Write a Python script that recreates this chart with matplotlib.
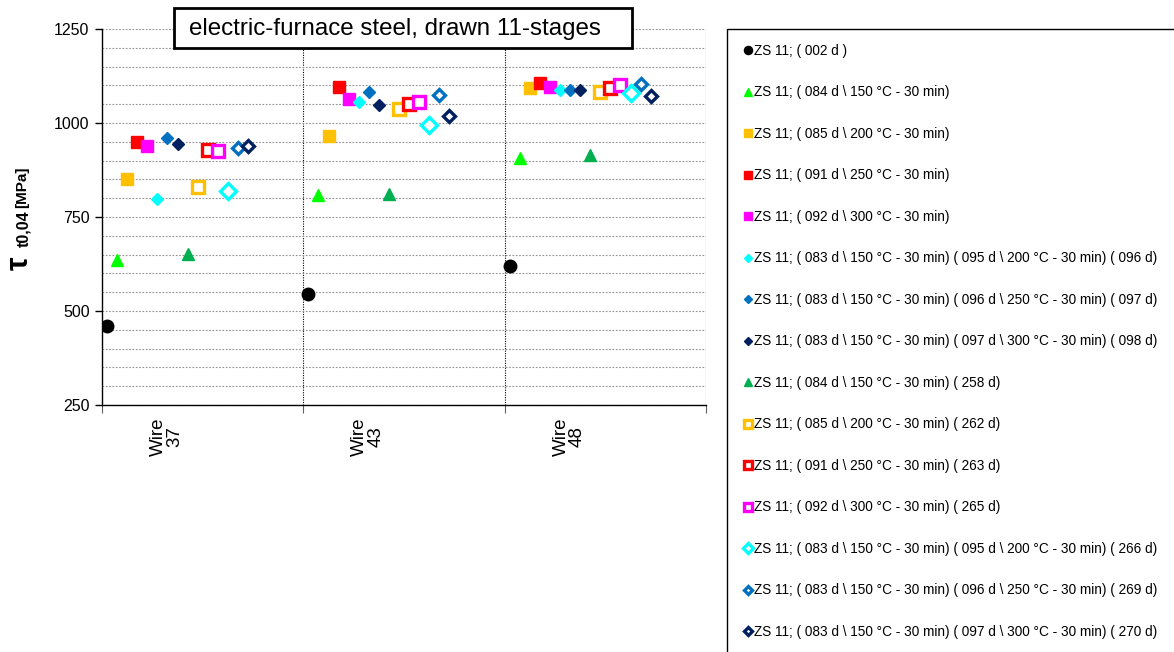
import matplotlib
matplotlib.use('Agg')
import matplotlib.pyplot as plt
from matplotlib.patches import Rectangle
from matplotlib.ticker import MultipleLocator, FixedLocator, NullFormatter

plt.rcParams['font.family'] = ['Liberation Sans', 'DejaVu Sans']

W, H = 1174, 652

wires = ['Wire\n37', 'Wire\n43', 'Wire\n48']

labels = [
    'ZS 11; ( 002 d )',
    'ZS 11; ( 084 d \\ 150 °C - 30 min)',
    'ZS 11; ( 085 d \\ 200 °C - 30 min)',
    'ZS 11; ( 091 d \\ 250 °C - 30 min)',
    'ZS 11; ( 092 d \\ 300 °C - 30 min)',
    'ZS 11; ( 083 d \\ 150 °C - 30 min) ( 095 d \\ 200 °C - 30 min) ( 096 d)',
    'ZS 11; ( 083 d \\ 150 °C - 30 min) ( 096 d \\ 250 °C - 30 min) ( 097 d)',
    'ZS 11; ( 083 d \\ 150 °C - 30 min) ( 097 d \\ 300 °C - 30 min) ( 098 d)',
    'ZS 11; ( 084 d \\ 150 °C - 30 min) ( 258 d)',
    'ZS 11; ( 085 d \\ 200 °C - 30 min) ( 262 d)',
    'ZS 11; ( 091 d \\ 250 °C - 30 min) ( 263 d)',
    'ZS 11; ( 092 d \\ 300 °C - 30 min) ( 265 d)',
    'ZS 11; ( 083 d \\ 150 °C - 30 min) ( 095 d \\ 200 °C - 30 min) ( 266 d)',
    'ZS 11; ( 083 d \\ 150 °C - 30 min) ( 096 d \\ 250 °C - 30 min) ( 269 d)',
    'ZS 11; ( 083 d \\ 150 °C - 30 min) ( 097 d \\ 300 °C - 30 min) ( 270 d)',
]

# tau values [MPa] per series, for wire 37 / 43 / 48
s002 = [459, 546, 619]
s084 = [636, 809, 908]
s085 = [850, 966, 1093]
s091 = [950, 1097, 1107]
s092 = [940, 1064, 1095]
s096 = [798, 1056, 1089]
s097 = [960, 1082, 1087]
s098 = [943, 1048, 1087]
s258 = [652, 810, 916]
s262 = [829, 1038, 1082]
s263 = [927, 1050, 1093]
s265 = [925, 1056, 1101]
s266 = [820, 996, 1079]
s269 = [934, 1074, 1104]
s270 = [938, 1018, 1073]

series = [s002, s084, s085, s091, s092, s096, s097, s098,
          s258, s262, s263, s265, s266, s269, s270]

# marker style per series: (marker, colour, filled, size, edge width)
styles = [
    ('o', '#000000', True, 9, 1),
    ('^', '#00FF00', True, 8.5, 1),
    ('s', '#FFC000', True, 8.5, 1),
    ('s', '#FF0000', True, 8.5, 1),
    ('s', '#FF00FF', True, 8.5, 1),
    ('D', '#00FFFF', True, 6.5, 1),
    ('D', '#0070C0', True, 6.5, 1),
    ('D', '#002060', True, 6.5, 1),
    ('^', '#00B050', True, 8.5, 1),
    ('s', '#FFC000', False, 8, 2.4),
    ('s', '#FF0000', False, 8, 2.4),
    ('s', '#FF00FF', False, 8, 2.4),
    ('D', '#00FFFF', False, 8, 2.4),
    ('D', '#0070C0', False, 6, 2.4),
    ('D', '#002060', False, 6, 2.4),
]

fig = plt.figure(figsize=(W / 100, H / 100), dpi=100)
ax = fig.add_axes([0.0869, 0.3788, 0.5145, 0.5767])

for i, (vals, st, lab) in enumerate(zip(series, styles, labels)):
    m, c, filled, ms, mew = st
    xs = [g + 0.025 + 0.05 * i for g in range(len(wires))]
    ax.plot(xs, vals, linestyle='none', marker=m, markersize=ms,
            markerfacecolor=c if filled else 'white', markeredgecolor=c,
            markeredgewidth=mew, label=lab, zorder=3)

ax.set_xlim(0, 3)
ax.set_ylim(250, 1250)
ax.yaxis.set_major_locator(MultipleLocator(250))
ax.yaxis.set_minor_locator(MultipleLocator(50))
ax.grid(True, which='both', axis='y', color='#909090', linestyle=(0, (1.5, 1.5)), linewidth=0.8)
ax.tick_params(axis='y', which='minor', length=0)
ax.tick_params(axis='y', which='major', length=5, width=1, labelsize=11.5, pad=4)

ax.xaxis.set_major_locator(FixedLocator([0, 1, 2, 3]))
ax.xaxis.set_major_formatter(NullFormatter())
ax.xaxis.set_minor_locator(FixedLocator([0.32, 1.32, 2.32]))
ax.set_xticklabels(wires, minor=True, rotation=90, fontsize=13.5, va='top', ha='center', linespacing=0.95)
ax.tick_params(axis='x', which='minor', length=0, pad=9)
ax.tick_params(axis='x', which='major', length=6, width=0.8, direction='out', color='#606060')
for xv in [1, 2, 3]:
    ax.axvline(xv, color='black', linestyle=(0, (1, 1.2)), linewidth=0.8, zorder=1)

ax.spines['top'].set_visible(False)
ax.spines['right'].set_visible(False)
ax.spines['left'].set_linewidth(1)
ax.spines['bottom'].set_linewidth(1)

# y label: big tau, subscript, unit
fig.text(20 / W, 1 - 263 / H, 'τ', fontsize=22, fontweight='bold', rotation=90,
         ha='center', va='center')
fig.text(24 / W, 1 - 229 / H, 't0,04', fontsize=11.5, fontweight='bold', rotation=90,
         ha='center', va='center')
fig.text(22 / W, 1 - 187 / H, '[MPa]', fontsize=11, fontweight='bold', rotation=90,
         ha='center', va='center')

# title box
fig.patches.append(Rectangle((174 / W, 1 - 47.5 / H), 458 / W, 39.5 / H,
                             transform=fig.transFigure, facecolor='white',
                             edgecolor='black', linewidth=2, zorder=5))
fig.text(189 / W, 1 - 29 / H, 'electric-furnace steel, drawn 11-stages',
         fontsize=17.4, ha='left', va='center', zorder=6)

# legend frame runs off the figure
fig.patches.append(Rectangle((727 / W, -0.1), 0.5, 1.1 - 29 / H,
                             transform=fig.transFigure, facecolor='white',
                             edgecolor='black', linewidth=1, zorder=0))
fig.legend(loc='upper left', bbox_to_anchor=(744 / W, 1 - 44 / H),
           frameon=False, fontsize=9.8, markerscale=0.65, handlelength=0.6,
           handletextpad=0.15, labelspacing=2.02, borderpad=0, borderaxespad=0)

fig.savefig('out.png', dpi=100)
